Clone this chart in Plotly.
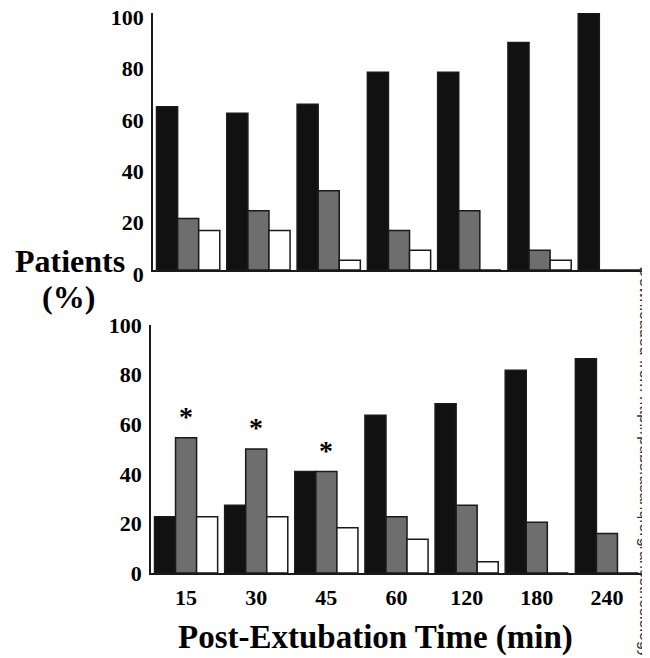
import plotly.graph_objects as go

# ---- data ----
times = ["15", "30", "45", "60", "120", "180", "240"]

top_black = [63.5, 61.0, 64.5, 76.9, 76.9, 88.5, 100.0]
top_gray = [20.0, 23.1, 30.8, 15.4, 23.1, 7.7, 0.0]
top_white = [15.4, 15.4, 3.8, 7.7, 0.0, 3.8, 0.0]

bot_black = [22.7, 27.3, 40.9, 63.6, 68.2, 81.8, 86.4]
bot_gray = [54.5, 50.0, 40.9, 22.7, 27.3, 20.5, 15.9]
bot_white = [22.7, 22.7, 18.2, 13.6, 4.5, 0.0, 0.0]

star_times = ["15", "30", "45"]
star_vals = [54.5, 50.0, 40.9]

y_ticks = [0, 20, 40, 60, 80, 100]

SERIF = "Liberation Serif"
LINE = "#1a1a1a"

# page body has an 8px margin: size the figure so it fills the window
OFF = 8
W, H = 650 - OFF, 658 - OFF

def px(xp):
    return (xp - OFF) / W

def py(yp):
    return 1 - (yp - OFF) / H

fig = go.Figure()

def add_panel(blacks, grays, whites, xa, ya):
    for vals, col in ((blacks, "#111111"), (grays, "#6e6e6e"), (whites, "#ffffff")):
        fig.add_trace(go.Bar(
            x=times, y=vals, xaxis=xa, yaxis=ya,
            marker=dict(color=col, line=dict(color=LINE, width=1.5)),
            showlegend=False, hoverinfo="x+y",
        ))

add_panel(top_black, top_gray, top_white, "x", "y")
add_panel(bot_black, bot_gray, bot_white, "x2", "y2")

axis_common = dict(
    showline=True, linecolor=LINE, linewidth=1.5, showgrid=False,
    zeroline=False, ticks="", automargin=False, ticklabeloverflow="allow",
    tickfont=dict(family=SERIF, size=22, color="black", weight="bold"),
)

fig.update_layout(
    template="none",
    width=W, height=H,
    margin=dict(l=0, r=0, t=0, b=0, pad=0, autoexpand=False),
    paper_bgcolor="white", plot_bgcolor="white",
    barmode="group", bargap=0.1, bargroupgap=0.0,
    xaxis=dict(domain=[px(153), px(645)], anchor="y", type="category",
               categoryorder="array", categoryarray=times,
               range=[-0.5, 6.5], showticklabels=False, **axis_common),
    yaxis=dict(domain=[py(270), py(13)], anchor="x",
               range=[0, 100], tickvals=y_ticks, ticklabelstandoff=3,
               ticklabelshift=4, **axis_common),
    xaxis2=dict(domain=[px(151), px(642)], anchor="y2", type="category",
                categoryorder="array", categoryarray=times,
                range=[-0.5, 6.5], ticklabelstandoff=4, **axis_common),
    yaxis2=dict(domain=[py(573), py(325)], anchor="x2",
                range=[0, 100], tickvals=y_ticks, ticklabelstandoff=3,
                **axis_common),
)

# significance stars (placed at the category index of each time point)
for t, v in zip(star_times, star_vals):
    fig.add_annotation(x=times.index(t), y=v, xref="x2", yref="y2", text="<b>*</b>",
                       showarrow=False, xanchor="center", yanchor="bottom", yshift=4,
                       font=dict(family=SERIF, size=28, color="black"))

# y title
fig.add_annotation(x=px(70), y=py(261), xref="paper", yref="paper",
                   text="<b>Patients</b>", showarrow=False,
                   xanchor="center", yanchor="middle",
                   font=dict(family=SERIF, size=32, color="black"))
fig.add_annotation(x=px(68), y=py(297), xref="paper", yref="paper",
                   text="<b>(%)</b>", showarrow=False,
                   xanchor="center", yanchor="middle",
                   font=dict(family=SERIF, size=32, color="black"))

# x title
fig.add_annotation(x=px(375), y=py(637), xref="paper", yref="paper",
                   text="<b>Post-Extubation Time (min)</b>", showarrow=False,
                   xanchor="center", yanchor="middle",
                   font=dict(family=SERIF, size=33, color="black"))

# vertical watermark
fig.add_annotation(x=px(645), y=py(264), xref="paper", yref="paper",
                   text="Downloaded from http://pubs.asahq.org/anesthesiology",
                   textangle=90, showarrow=False, xanchor="center", yanchor="top",
                   font=dict(family="Liberation Sans", size=16, color="#333333"))

fig.write_html("out.html")
